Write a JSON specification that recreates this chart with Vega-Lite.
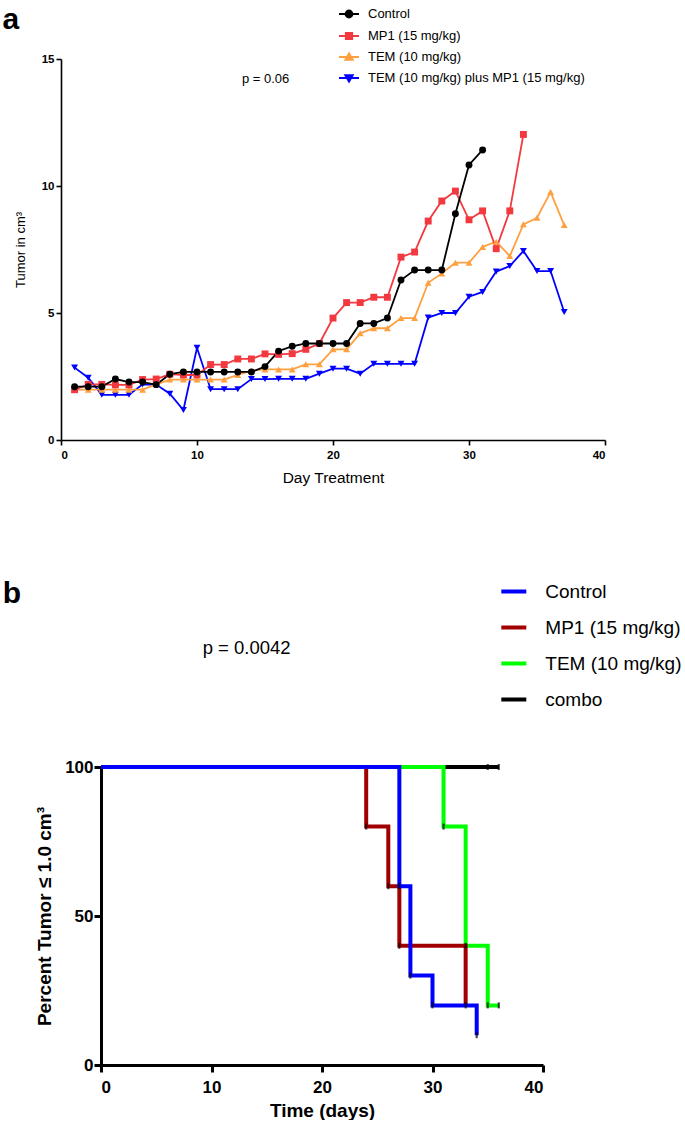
{
  "$schema": "https://vega.github.io/schema/vega-lite/v6.json",
  "background": "white",
  "padding": {"left": 2, "top": 3, "right": 0, "bottom": 0},
  "config": {
    "font": "Liberation Sans",
    "view": {"stroke": null},
    "axis": {"grid": false, "domainColor": "black", "tickColor": "black", "labelColor": "black", "titleColor": "black", "labelFont": "Liberation Sans", "titleFont": "Liberation Sans"},
    "legend": {"labelColor": "black", "labelFont": "Liberation Sans"}
  },
  "datasets": {
    "tumor": [
      {"group": "TEM (10 mg/kg) plus MP1 (15 mg/kg)", "day": 1, "volume": 2.85},
      {"group": "TEM (10 mg/kg) plus MP1 (15 mg/kg)", "day": 2, "volume": 2.45},
      {"group": "TEM (10 mg/kg) plus MP1 (15 mg/kg)", "day": 3, "volume": 1.78},
      {"group": "TEM (10 mg/kg) plus MP1 (15 mg/kg)", "day": 4, "volume": 1.78},
      {"group": "TEM (10 mg/kg) plus MP1 (15 mg/kg)", "day": 5, "volume": 1.78},
      {"group": "TEM (10 mg/kg) plus MP1 (15 mg/kg)", "day": 6, "volume": 2.19},
      {"group": "TEM (10 mg/kg) plus MP1 (15 mg/kg)", "day": 7, "volume": 2.18},
      {"group": "TEM (10 mg/kg) plus MP1 (15 mg/kg)", "day": 8, "volume": 1.82},
      {"group": "TEM (10 mg/kg) plus MP1 (15 mg/kg)", "day": 9, "volume": 1.18},
      {"group": "TEM (10 mg/kg) plus MP1 (15 mg/kg)", "day": 10, "volume": 3.63},
      {"group": "TEM (10 mg/kg) plus MP1 (15 mg/kg)", "day": 11, "volume": 2.0},
      {"group": "TEM (10 mg/kg) plus MP1 (15 mg/kg)", "day": 12, "volume": 2.0},
      {"group": "TEM (10 mg/kg) plus MP1 (15 mg/kg)", "day": 13, "volume": 2.0},
      {"group": "TEM (10 mg/kg) plus MP1 (15 mg/kg)", "day": 14, "volume": 2.4},
      {"group": "TEM (10 mg/kg) plus MP1 (15 mg/kg)", "day": 15, "volume": 2.4},
      {"group": "TEM (10 mg/kg) plus MP1 (15 mg/kg)", "day": 16, "volume": 2.41},
      {"group": "TEM (10 mg/kg) plus MP1 (15 mg/kg)", "day": 17, "volume": 2.41},
      {"group": "TEM (10 mg/kg) plus MP1 (15 mg/kg)", "day": 18, "volume": 2.41},
      {"group": "TEM (10 mg/kg) plus MP1 (15 mg/kg)", "day": 19, "volume": 2.61},
      {"group": "TEM (10 mg/kg) plus MP1 (15 mg/kg)", "day": 20, "volume": 2.81},
      {"group": "TEM (10 mg/kg) plus MP1 (15 mg/kg)", "day": 21, "volume": 2.81},
      {"group": "TEM (10 mg/kg) plus MP1 (15 mg/kg)", "day": 22, "volume": 2.61},
      {"group": "TEM (10 mg/kg) plus MP1 (15 mg/kg)", "day": 23, "volume": 3.0},
      {"group": "TEM (10 mg/kg) plus MP1 (15 mg/kg)", "day": 24, "volume": 3.0},
      {"group": "TEM (10 mg/kg) plus MP1 (15 mg/kg)", "day": 25, "volume": 3.0},
      {"group": "TEM (10 mg/kg) plus MP1 (15 mg/kg)", "day": 26, "volume": 3.0},
      {"group": "TEM (10 mg/kg) plus MP1 (15 mg/kg)", "day": 27, "volume": 4.82},
      {"group": "TEM (10 mg/kg) plus MP1 (15 mg/kg)", "day": 28, "volume": 5.0},
      {"group": "TEM (10 mg/kg) plus MP1 (15 mg/kg)", "day": 29, "volume": 5.0},
      {"group": "TEM (10 mg/kg) plus MP1 (15 mg/kg)", "day": 30, "volume": 5.64},
      {"group": "TEM (10 mg/kg) plus MP1 (15 mg/kg)", "day": 31, "volume": 5.83},
      {"group": "TEM (10 mg/kg) plus MP1 (15 mg/kg)", "day": 32, "volume": 6.63},
      {"group": "TEM (10 mg/kg) plus MP1 (15 mg/kg)", "day": 33, "volume": 6.85},
      {"group": "TEM (10 mg/kg) plus MP1 (15 mg/kg)", "day": 34, "volume": 7.44},
      {"group": "TEM (10 mg/kg) plus MP1 (15 mg/kg)", "day": 35, "volume": 6.65},
      {"group": "TEM (10 mg/kg) plus MP1 (15 mg/kg)", "day": 36, "volume": 6.65},
      {"group": "TEM (10 mg/kg) plus MP1 (15 mg/kg)", "day": 37, "volume": 5.04},
      {"group": "TEM (10 mg/kg)", "day": 1, "volume": 1.98},
      {"group": "TEM (10 mg/kg)", "day": 2, "volume": 1.98},
      {"group": "TEM (10 mg/kg)", "day": 3, "volume": 1.98},
      {"group": "TEM (10 mg/kg)", "day": 4, "volume": 1.98},
      {"group": "TEM (10 mg/kg)", "day": 5, "volume": 1.98},
      {"group": "TEM (10 mg/kg)", "day": 6, "volume": 1.98},
      {"group": "TEM (10 mg/kg)", "day": 7, "volume": 2.19},
      {"group": "TEM (10 mg/kg)", "day": 8, "volume": 2.38},
      {"group": "TEM (10 mg/kg)", "day": 9, "volume": 2.38},
      {"group": "TEM (10 mg/kg)", "day": 10, "volume": 2.38},
      {"group": "TEM (10 mg/kg)", "day": 11, "volume": 2.38},
      {"group": "TEM (10 mg/kg)", "day": 12, "volume": 2.38},
      {"group": "TEM (10 mg/kg)", "day": 13, "volume": 2.56},
      {"group": "TEM (10 mg/kg)", "day": 14, "volume": 2.73},
      {"group": "TEM (10 mg/kg)", "day": 15, "volume": 2.78},
      {"group": "TEM (10 mg/kg)", "day": 16, "volume": 2.78},
      {"group": "TEM (10 mg/kg)", "day": 17, "volume": 2.78},
      {"group": "TEM (10 mg/kg)", "day": 18, "volume": 2.98},
      {"group": "TEM (10 mg/kg)", "day": 19, "volume": 2.98},
      {"group": "TEM (10 mg/kg)", "day": 20, "volume": 3.57},
      {"group": "TEM (10 mg/kg)", "day": 21, "volume": 3.57},
      {"group": "TEM (10 mg/kg)", "day": 22, "volume": 4.2},
      {"group": "TEM (10 mg/kg)", "day": 23, "volume": 4.4},
      {"group": "TEM (10 mg/kg)", "day": 24, "volume": 4.4},
      {"group": "TEM (10 mg/kg)", "day": 25, "volume": 4.8},
      {"group": "TEM (10 mg/kg)", "day": 26, "volume": 4.8},
      {"group": "TEM (10 mg/kg)", "day": 27, "volume": 6.19},
      {"group": "TEM (10 mg/kg)", "day": 28, "volume": 6.56},
      {"group": "TEM (10 mg/kg)", "day": 29, "volume": 6.98},
      {"group": "TEM (10 mg/kg)", "day": 30, "volume": 6.98},
      {"group": "TEM (10 mg/kg)", "day": 31, "volume": 7.6},
      {"group": "TEM (10 mg/kg)", "day": 32, "volume": 7.81},
      {"group": "TEM (10 mg/kg)", "day": 33, "volume": 7.24},
      {"group": "TEM (10 mg/kg)", "day": 34, "volume": 8.49},
      {"group": "TEM (10 mg/kg)", "day": 35, "volume": 8.75},
      {"group": "TEM (10 mg/kg)", "day": 36, "volume": 9.76},
      {"group": "TEM (10 mg/kg)", "day": 37, "volume": 8.46},
      {"group": "MP1 (15 mg/kg)", "day": 1, "volume": 1.98},
      {"group": "MP1 (15 mg/kg)", "day": 2, "volume": 2.19},
      {"group": "MP1 (15 mg/kg)", "day": 3, "volume": 2.19},
      {"group": "MP1 (15 mg/kg)", "day": 4, "volume": 2.17},
      {"group": "MP1 (15 mg/kg)", "day": 5, "volume": 2.17},
      {"group": "MP1 (15 mg/kg)", "day": 6, "volume": 2.38},
      {"group": "MP1 (15 mg/kg)", "day": 7, "volume": 2.4},
      {"group": "MP1 (15 mg/kg)", "day": 8, "volume": 2.59},
      {"group": "MP1 (15 mg/kg)", "day": 9, "volume": 2.56},
      {"group": "MP1 (15 mg/kg)", "day": 10, "volume": 2.56},
      {"group": "MP1 (15 mg/kg)", "day": 11, "volume": 2.97},
      {"group": "MP1 (15 mg/kg)", "day": 12, "volume": 2.97},
      {"group": "MP1 (15 mg/kg)", "day": 13, "volume": 3.19},
      {"group": "MP1 (15 mg/kg)", "day": 14, "volume": 3.19},
      {"group": "MP1 (15 mg/kg)", "day": 15, "volume": 3.39},
      {"group": "MP1 (15 mg/kg)", "day": 16, "volume": 3.37},
      {"group": "MP1 (15 mg/kg)", "day": 17, "volume": 3.4},
      {"group": "MP1 (15 mg/kg)", "day": 18, "volume": 3.57},
      {"group": "MP1 (15 mg/kg)", "day": 19, "volume": 3.8},
      {"group": "MP1 (15 mg/kg)", "day": 20, "volume": 4.8},
      {"group": "MP1 (15 mg/kg)", "day": 21, "volume": 5.41},
      {"group": "MP1 (15 mg/kg)", "day": 22, "volume": 5.41},
      {"group": "MP1 (15 mg/kg)", "day": 23, "volume": 5.62},
      {"group": "MP1 (15 mg/kg)", "day": 24, "volume": 5.62},
      {"group": "MP1 (15 mg/kg)", "day": 25, "volume": 7.2},
      {"group": "MP1 (15 mg/kg)", "day": 26, "volume": 7.4},
      {"group": "MP1 (15 mg/kg)", "day": 27, "volume": 8.62},
      {"group": "MP1 (15 mg/kg)", "day": 28, "volume": 9.41},
      {"group": "MP1 (15 mg/kg)", "day": 29, "volume": 9.8},
      {"group": "MP1 (15 mg/kg)", "day": 30, "volume": 8.67},
      {"group": "MP1 (15 mg/kg)", "day": 31, "volume": 9.02},
      {"group": "MP1 (15 mg/kg)", "day": 32, "volume": 7.53},
      {"group": "MP1 (15 mg/kg)", "day": 33, "volume": 9.02},
      {"group": "MP1 (15 mg/kg)", "day": 34, "volume": 12.03},
      {"group": "Control", "day": 1, "volume": 2.1},
      {"group": "Control", "day": 2, "volume": 2.1},
      {"group": "Control", "day": 3, "volume": 2.1},
      {"group": "Control", "day": 4, "volume": 2.4},
      {"group": "Control", "day": 5, "volume": 2.28},
      {"group": "Control", "day": 6, "volume": 2.28},
      {"group": "Control", "day": 7, "volume": 2.18},
      {"group": "Control", "day": 8, "volume": 2.59},
      {"group": "Control", "day": 9, "volume": 2.68},
      {"group": "Control", "day": 10, "volume": 2.68},
      {"group": "Control", "day": 11, "volume": 2.68},
      {"group": "Control", "day": 12, "volume": 2.68},
      {"group": "Control", "day": 13, "volume": 2.68},
      {"group": "Control", "day": 14, "volume": 2.68},
      {"group": "Control", "day": 15, "volume": 2.89},
      {"group": "Control", "day": 16, "volume": 3.5},
      {"group": "Control", "day": 17, "volume": 3.69},
      {"group": "Control", "day": 18, "volume": 3.8},
      {"group": "Control", "day": 19, "volume": 3.8},
      {"group": "Control", "day": 20, "volume": 3.8},
      {"group": "Control", "day": 21, "volume": 3.8},
      {"group": "Control", "day": 22, "volume": 4.59},
      {"group": "Control", "day": 23, "volume": 4.59},
      {"group": "Control", "day": 24, "volume": 4.8},
      {"group": "Control", "day": 25, "volume": 6.3},
      {"group": "Control", "day": 26, "volume": 6.69},
      {"group": "Control", "day": 27, "volume": 6.69},
      {"group": "Control", "day": 28, "volume": 6.69},
      {"group": "Control", "day": 29, "volume": 8.91},
      {"group": "Control", "day": 30, "volume": 10.83},
      {"group": "Control", "day": 31, "volume": 11.42}
    ],
    "surv": [
      {"group": "combo", "day": 0, "pct": 100},
      {"group": "combo", "day": 36, "pct": 100},
      {"group": "TEM (10 mg/kg)", "day": 0, "pct": 100},
      {"group": "TEM (10 mg/kg)", "day": 31, "pct": 80},
      {"group": "TEM (10 mg/kg)", "day": 33, "pct": 40},
      {"group": "TEM (10 mg/kg)", "day": 35, "pct": 20},
      {"group": "TEM (10 mg/kg)", "day": 36, "pct": 20},
      {"group": "MP1 (15 mg/kg)", "day": 0, "pct": 100},
      {"group": "MP1 (15 mg/kg)", "day": 24, "pct": 80},
      {"group": "MP1 (15 mg/kg)", "day": 26, "pct": 60},
      {"group": "MP1 (15 mg/kg)", "day": 27, "pct": 40},
      {"group": "MP1 (15 mg/kg)", "day": 33, "pct": 20},
      {"group": "Control", "day": 0, "pct": 100},
      {"group": "Control", "day": 27, "pct": 60},
      {"group": "Control", "day": 28, "pct": 30},
      {"group": "Control", "day": 30, "pct": 20},
      {"group": "Control", "day": 34, "pct": 10}
    ],
    "events": [
      {"group": "Control", "day": 27, "pct": 60},
      {"group": "Control", "day": 28, "pct": 30},
      {"group": "Control", "day": 30, "pct": 20},
      {"group": "Control", "day": 34, "pct": 10},
      {"group": "MP1 (15 mg/kg)", "day": 24, "pct": 80},
      {"group": "MP1 (15 mg/kg)", "day": 26, "pct": 60},
      {"group": "MP1 (15 mg/kg)", "day": 27, "pct": 40},
      {"group": "MP1 (15 mg/kg)", "day": 33, "pct": 20},
      {"group": "TEM (10 mg/kg)", "day": 31, "pct": 80},
      {"group": "TEM (10 mg/kg)", "day": 33, "pct": 40},
      {"group": "TEM (10 mg/kg)", "day": 35, "pct": 20},
      {"group": "TEM (10 mg/kg)", "day": 36, "pct": 20},
      {"group": "combo", "day": 35, "pct": 100},
      {"group": "combo", "day": 36, "pct": 100}
    ]
  },
  "spacing": 91,
  "resolve": {
    "scale": {"color": "independent", "shape": "independent", "stroke": "independent", "strokeWidth": "independent", "x": "independent", "y": "independent"},
    "legend": {"color": "independent", "shape": "independent", "stroke": "independent"}
  },
  "vconcat": [
    {
      "width": 544,
      "height": 381,
      "resolve": {
        "scale": {"color": "independent", "shape": "independent", "stroke": "independent"},
        "legend": {"color": "independent", "shape": "independent", "stroke": "independent"}
      },
      "layer": [
        {
          "data": {"name": "tumor"},
          "mark": {"type": "line", "strokeWidth": 1.8},
          "encoding": {
            "x": {"field": "day", "type": "quantitative", "title": "Day Treatment",
                  "scale": {"domain": [0, 40]},
                  "axis": {"values": [0, 10, 20, 30, 40], "labelFontWeight": "bold", "labelFontSize": 11.5, "domainWidth": 1.6, "tickWidth": 1.6, "tickSize": 5, "labelPadding": 4, "titleFontSize": 15.5, "titleFontWeight": "normal", "titlePadding": 10}},
            "y": {"field": "volume", "type": "quantitative", "title": "Tumor in cm³",
                  "scale": {"domain": [0, 15]},
                  "axis": {"values": [0, 5, 10, 15], "labelFontWeight": "bold", "labelFontSize": 11.5, "domainWidth": 1.6, "tickWidth": 1.6, "tickSize": 5, "labelPadding": 2, "titleFontSize": 13, "titleFontWeight": "normal", "titlePadding": 14}},
            "color": {"field": "group", "type": "nominal",
                      "scale": {"domain": ["Control", "MP1 (15 mg/kg)", "TEM (10 mg/kg)", "TEM (10 mg/kg) plus MP1 (15 mg/kg)"], "range": ["#000000", "#f2393f", "#ffa040", "#0000ff"]},
                      "legend": null}
          }
        },
        {
          "data": {"name": "tumor"},
          "mark": {"type": "point", "filled": true, "opacity": 1, "size": 48},
          "encoding": {
            "x": {"field": "day", "type": "quantitative", "scale": {"domain": [0, 40]}},
            "y": {"field": "volume", "type": "quantitative", "scale": {"domain": [0, 15]}},
            "color": {"field": "group", "type": "nominal",
                      "scale": {"domain": ["Control", "MP1 (15 mg/kg)", "TEM (10 mg/kg)", "TEM (10 mg/kg) plus MP1 (15 mg/kg)"], "range": ["#000000", "#f2393f", "#ffa040", "#0000ff"]},
                      "legend": null},
            "shape": {"field": "group", "type": "nominal",
                      "scale": {"domain": ["Control", "MP1 (15 mg/kg)", "TEM (10 mg/kg)", "TEM (10 mg/kg) plus MP1 (15 mg/kg)"], "range": ["circle", "square", "triangle-up", "triangle-down"]},
                      "legend": null}
          }
        },
        {
          "data": {"values": []},
          "mark": {"type": "point", "filled": true, "opacity": 1, "size": 400, "strokeWidth": 1.8},
          "encoding": {
            "x": {"field": "day", "type": "quantitative", "scale": {"domain": [0, 40]}},
            "y": {"field": "volume", "type": "quantitative", "scale": {"domain": [0, 15]}},
            "color": {"field": "group", "type": "nominal",
                      "scale": {"domain": ["Control", "MP1 (15 mg/kg)", "TEM (10 mg/kg)", "TEM (10 mg/kg) plus MP1 (15 mg/kg)"], "range": ["#000000", "#f2393f", "#ffa040", "#0000ff"]},
                      "legend": {"orient": "none", "legendX": 277, "legendY": -56, "title": null, "padding": 0, "symbolSize": 400, "symbolStrokeWidth": 1.8, "labelFontSize": 13, "labelOffset": 8, "labelLimit": 400, "rowPadding": 3}},
            "stroke": {"field": "group", "type": "nominal",
                       "scale": {"domain": ["Control", "MP1 (15 mg/kg)", "TEM (10 mg/kg)", "TEM (10 mg/kg) plus MP1 (15 mg/kg)"], "range": ["#000000", "#f2393f", "#ffa040", "#0000ff"]},
                       "legend": {"orient": "none", "legendX": 277, "legendY": -56, "title": null, "padding": 0, "symbolSize": 400, "symbolStrokeWidth": 1.8, "labelFontSize": 13, "labelOffset": 8, "labelLimit": 400, "rowPadding": 3}},
            "shape": {"field": "group", "type": "nominal",
                      "scale": {"domain": ["Control", "MP1 (15 mg/kg)", "TEM (10 mg/kg)", "TEM (10 mg/kg) plus MP1 (15 mg/kg)"],
                                "range": ["M-1,0H1M0.35,0A0.35,0.35,0,1,1,-0.35,0A0.35,0.35,0,1,1,0.35,0Z", "M-1,0H1M-0.32,-0.32H0.32V0.32H-0.32Z", "M-1,0H1M0,-0.38L0.38,0.28H-0.38Z", "M-1,0H1M0,0.38L0.38,-0.28H-0.38Z"]},
                      "legend": {"orient": "none", "legendX": 277, "legendY": -56, "title": null, "padding": 0, "symbolSize": 400, "symbolStrokeWidth": 1.8, "labelFontSize": 13, "labelOffset": 8, "labelLimit": 400, "rowPadding": 3}}
          }
        },
        {
          "data": {"values": [{}]},
          "mark": {"type": "text", "fontSize": 13, "align": "left", "baseline": "alphabetic", "color": "black"},
          "encoding": {
            "x": {"datum": 13.3, "type": "quantitative", "scale": {"domain": [0, 40]}},
            "y": {"datum": 14.06, "type": "quantitative", "scale": {"domain": [0, 15]}},
            "text": {"value": "p = 0.06"}
          }
        },
        {
          "data": {"values": [{}]},
          "mark": {"type": "text", "fontSize": 30, "fontWeight": "bold", "align": "left", "baseline": "alphabetic", "color": "black"},
          "encoding": {
            "x": {"datum": -4.3, "type": "quantitative", "scale": {"domain": [0, 40]}},
            "y": {"datum": 16.18, "type": "quantitative", "scale": {"domain": [0, 15]}},
            "text": {"value": "a"}
          }
        }
      ]
    },
    {
      "width": 481,
      "height": 298,
      "layer": [
        {
          "data": {"name": "surv"},
          "mark": {"type": "line", "interpolate": "step-after"},
          "encoding": {
            "x": {"field": "day", "type": "quantitative", "title": "Time (days)",
                  "scale": {"domain": [0, 40], "range": [40, 482]},
                  "axis": {"values": [0, 10, 20, 30, 40], "labelFontWeight": "bold", "labelFontSize": 17, "domainWidth": 3, "tickWidth": 3, "tickSize": 7, "labelPadding": 7, "titleFontSize": 19, "titleFontWeight": "bold", "titlePadding": 6}},
            "y": {"field": "pct", "type": "quantitative", "title": "Percent Tumor ≤ 1.0 cm³",
                  "scale": {"domain": [0, 100]},
                  "axis": {"values": [0, 50, 100], "offset": -40, "labelFontWeight": "bold", "labelFontSize": 17, "domainWidth": 3, "tickWidth": 3, "tickSize": 7, "labelPadding": 1, "titleFontSize": 19, "titleFontWeight": "bold", "titlePadding": 10}},
            "color": {"field": "group", "type": "nominal",
                      "scale": {"domain": ["Control", "MP1 (15 mg/kg)", "TEM (10 mg/kg)", "combo"], "range": ["#0000ff", "#a00000", "#00ff00", "#000000"]},
                      "legend": {"orient": "none", "legendX": 438.3, "legendY": -190, "title": null, "padding": 0, "symbolType": "stroke", "symbolSize": 625, "symbolStrokeWidth": 4, "labelFontSize": 19, "labelOffset": 17, "labelLimit": 300, "rowPadding": 11}},
            "strokeWidth": {"field": "group", "type": "nominal",
                            "scale": {"domain": ["Control", "MP1 (15 mg/kg)", "TEM (10 mg/kg)", "combo"], "range": [4, 4, 4, 1.8]},
                            "legend": null}
          }
        },
        {
          "data": {"name": "events"},
          "mark": {"type": "tick", "orient": "vertical", "color": "black", "size": 6, "thickness": 2.2},
          "encoding": {
            "x": {"field": "day", "type": "quantitative", "scale": {"domain": [0, 40], "range": [40, 482]}},
            "y": {"field": "pct", "type": "quantitative", "scale": {"domain": [0, 100]}}
          }
        },
        {
          "data": {"values": [{}]},
          "mark": {"type": "text", "fontSize": 18.5, "align": "left", "baseline": "alphabetic", "color": "black"},
          "encoding": {
            "x": {"datum": 9.2, "type": "quantitative", "scale": {"domain": [0, 40], "range": [40, 482]}},
            "y": {"datum": 138, "type": "quantitative", "scale": {"domain": [0, 100]}},
            "text": {"value": "p = 0.0042"}
          }
        },
        {
          "data": {"values": [{}]},
          "mark": {"type": "text", "fontSize": 30, "fontWeight": "bold", "align": "left", "baseline": "alphabetic", "color": "black"},
          "encoding": {
            "x": {"datum": -8.9, "type": "quantitative", "scale": {"domain": [0, 40], "range": [40, 482]}},
            "y": {"datum": 155, "type": "quantitative", "scale": {"domain": [0, 100]}},
            "text": {"value": "b"}
          }
        }
      ]
    }
  ]
}
